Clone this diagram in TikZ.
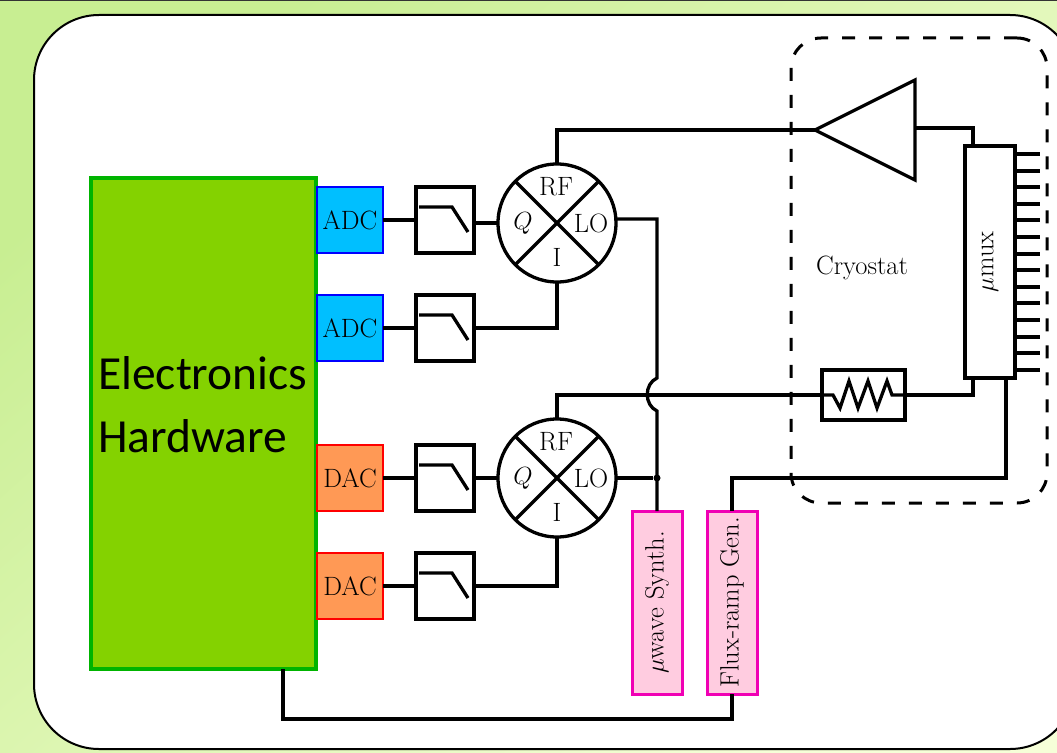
\documentclass[tikz,border=0pt]{standalone}
\usepackage{fontspec}
\usepackage{graphicx}
\usetikzlibrary{shapes.geometric}
\newfontfamily\elecfont{Carlito}
\definecolor{bgtop}{HTML}{C8EE92}
\definecolor{bgbottom}{HTML}{F6FFD8}
\definecolor{elecfill}{HTML}{84D200}
\definecolor{elecedge}{HTML}{00B400}
\definecolor{adcfill}{HTML}{00BFFF}
\definecolor{dacfill}{HTML}{FF9955}
\definecolor{genfill}{HTML}{FFCCE0}
\definecolor{genedge}{HTML}{F000B4}
\tikzset{
  wire/.style={line width=3.3pt},
  thickwire/.style={line width=4pt},
  lpfbox/.style={draw, wire, fill=white, minimum width=58pt, minimum height=66pt, inner sep=0pt, outer sep=0pt},
  adcbox/.style={draw=blue, line width=2pt, fill=adcfill, minimum width=66pt, minimum height=66pt, inner sep=0pt, outer sep=0pt},
  dacbox/.style={draw=red, line width=2pt, fill=dacfill, minimum width=66pt, minimum height=66pt, inner sep=0pt, outer sep=0pt},
  mixerbox/.style={draw, circle, wire, fill=white, minimum size=118pt, inner sep=0pt, outer sep=0pt},
  genbox/.style={draw=genedge, line width=3pt, fill=genfill, minimum width=50pt, minimum height=183pt, inner sep=0pt, outer sep=0pt},
  every node/.append style={font=\fontsize{26.5}{30}\selectfont},
}

\begin{document}
\begin{tikzpicture}[x=1pt, y=-1pt]
    \clip (0, 0) rectangle (1057, 752);
    \shade[top color=bgtop, bottom color=bgbottom, shading angle=42] (0, 0) rectangle (1057, 752);
    \draw[line width=2pt, black!80] (0, 0) -- (1057, 0);
    \draw[line width=2pt, fill=white, rounded corners=65pt] (34, 15) rectangle (1075, 749);

    \node[draw=elecedge, line width=4pt, fill=elecfill, minimum width=225pt, minimum height=491pt, inner sep=0pt, outer sep=0pt] (elec) at (203.5, 423.5) {};
    \node[anchor=base west, inner sep=0pt, font=\elecfont\fontsize{47.5}{54}\selectfont] (electext) at (98, 389) {Electronics};
    \node[anchor=base west, inner sep=0pt, font=\elecfont\fontsize{47.5}{54}\selectfont] (hardtext) at (98, 452) {Hardware};

    % cryostat
    \node[draw, line width=3pt, dash pattern=on 13pt off 14pt, rounded corners=30pt, minimum width=256pt, minimum height=465pt, inner sep=0pt, outer sep=0pt] (cryo) at (919, 270.5) {};
    \node (cryotext) at (862, 268) {Cryostat};

    % converters and filters
    \node[adcbox] (adca) at (350, 220) {ADC};
    \node[adcbox] (adcb) at (350, 328) {ADC};
    \node[dacbox] (daca) at (350, 478) {DAC};
    \node[dacbox] (dacb) at (350, 586) {DAC};
    \foreach \name/\ypos in {lpfa/220, lpfb/328, lpfc/478, lpfd/586} {
      \node[lpfbox] (\name) at (445, \ypos) {};
      \draw[wire] (419, \ypos-13) -- (452, \ypos-13) -- (468, \ypos+12);
    }
    \draw[thickwire] (adca) -- (lpfa);
    \draw[thickwire] (adcb) -- (lpfb);
    \draw[thickwire] (daca) -- (lpfc);
    \draw[thickwire] (dacb) -- (lpfd);

    % mixers
    \foreach \name/\ypos in {mixa/223, mixb/478} {
      \node[mixerbox] (\name) at (557, \ypos) {};
      \draw[wire] (\name.north west) -- (\name.south east);
      \draw[wire] (\name.north east) -- (\name.south west);
      \node (\name rf) at (556, \ypos-36) {RF};
      \node (\name q) at (523, \ypos) {$Q$};
      \node (\name lo) at (591, \ypos) {LO};
      \node (\name i) at (557, \ypos+34) {I};
    }
    \draw[wire] (lpfa.east |- mixa) -- (mixa.west);
    \draw[wire] (lpfb.east) -| (mixa.south);
    \draw[wire] (lpfc.east) -- (mixb.west);
    \draw[wire] (lpfd.east) -| (mixb.south);

    % amplifier and multiplexer
    \coordinate (amptip) at (815, 130);
    \coordinate (ampout) at (915, 128);
    \draw[wire, fill=white, line join=miter] (amptip) -- (915, 80) -- (915, 180) -- cycle;
    \node[draw, wire, fill=white, minimum width=50pt, minimum height=232pt, inner sep=0pt, outer sep=0pt] (mux) at (990, 262) {\rotatebox{90}{$\mu$mux}};
    \coordinate (muxin) at (973, 146);
    \coordinate (muxout) at (973, 378);
    \coordinate (muxramp) at (1006, 378);
    \foreach \i in {0,...,13}
      \draw[thickwire] (1015, {154+16.6*\i}) -- ++(25, 0);
    \draw[wire] (mixa.north) |- (amptip);
    \draw[wire] (ampout) -| (muxin);

    % flux line resistor
    \node[draw, wire, fill=white, minimum width=83pt, minimum height=50pt, inner sep=0pt, outer sep=0pt] (res) at (863.5, 395) {};
    \draw[wire, line join=miter] (res.west) -- (833, 395) -- (840, 408) -- (849, 381) -- (858, 408) -- (868, 381) -- (877, 408) -- (887, 381) -- (892, 395) -- (res.east);
    \draw[wire] (mixb.north) |- (res.west);
    \draw[wire] (res.east) -| (muxout);

    % generators
    \node[genbox] (synth) at (657, 602.5) {\rotatebox{90}{$\mu$wave Synth.}};
    \node[genbox] (flux) at (732, 602.5) {\rotatebox{90}{Flux-ramp Gen.}};
    \coordinate (loa) at (614, 219);
    \coordinate (bumptop) at (657, 378);
    \coordinate (bumpend) at (657, 411);
    \draw[wire] (loa) -| (bumptop) .. controls (644, 384) and (644, 405) .. (bumpend) -- (synth.north);
    \node[circle, fill, minimum size=7pt, inner sep=0pt] (lojoin) at (657, 478) {};
    \draw[thickwire] (mixb.east) -- (lojoin);
    \coordinate (fluxturn) at (1006, 478);
    \draw[wire] (flux.north) |- (fluxturn) -- (muxramp);
    \coordinate (hwout) at (283, 669);
    \coordinate (hwturn) at (283, 719);
    \draw[wire] (hwout) -- (hwturn) -| (flux.south);
  \end{tikzpicture}
\end{document}
